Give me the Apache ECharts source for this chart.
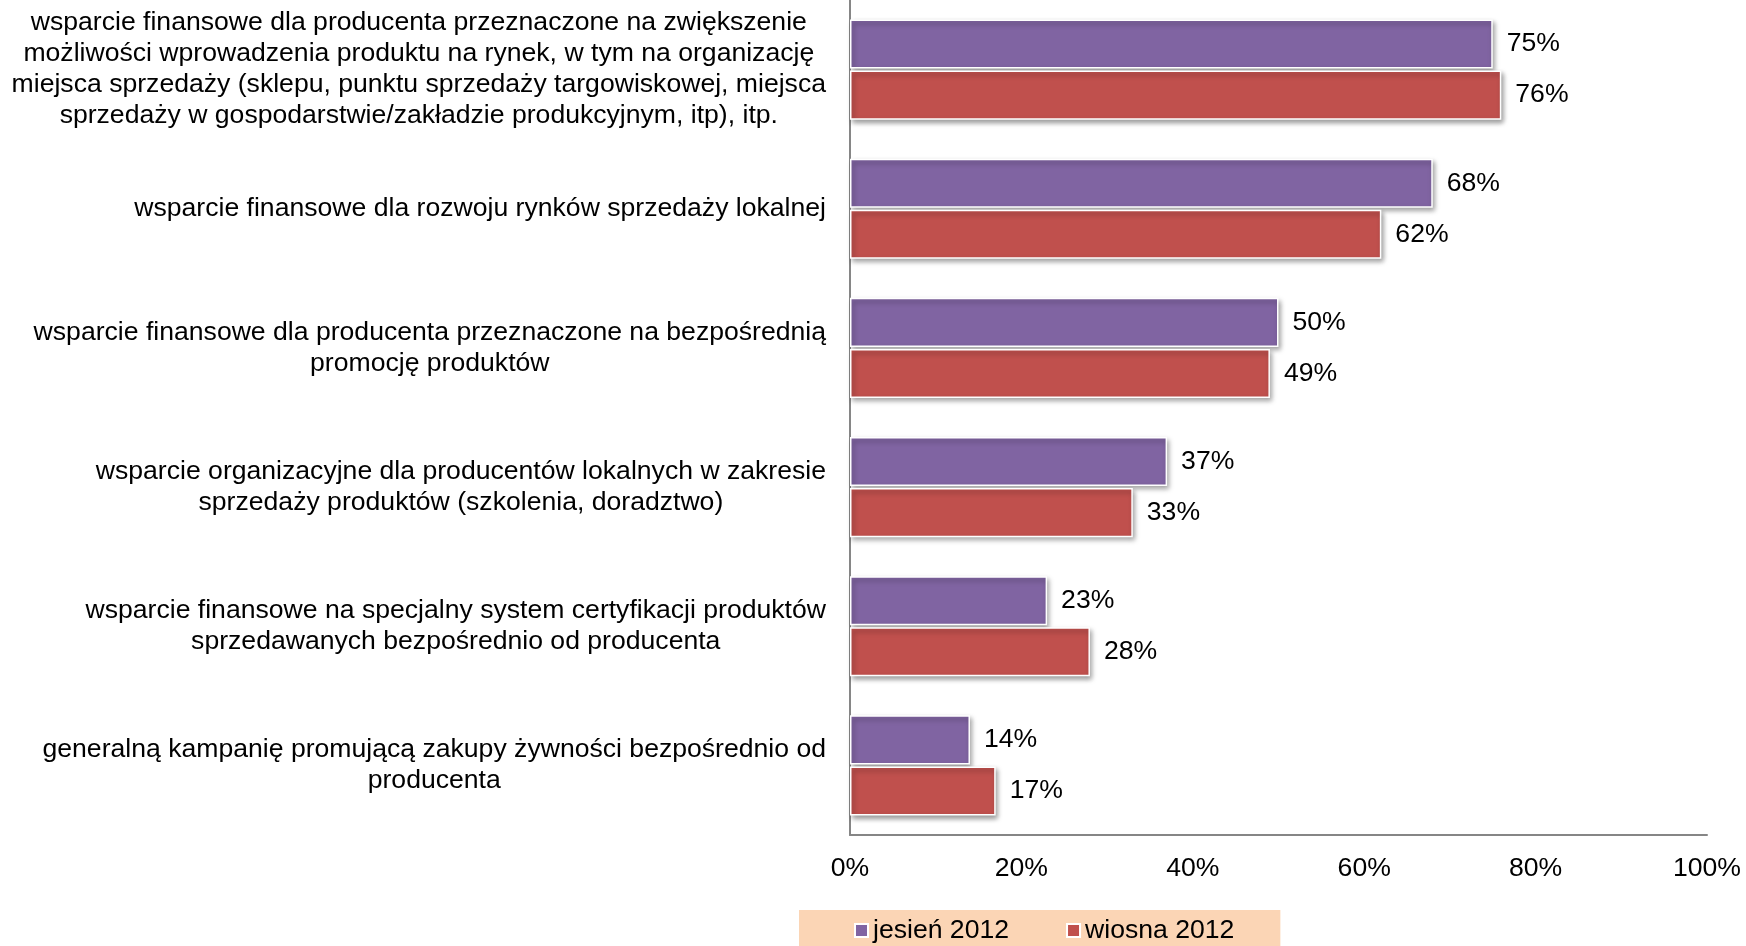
<!DOCTYPE html>
<html>
<head>
<meta charset="utf-8">
<script src="https://cdn.jsdelivr.net/npm/echarts@6/dist/echarts.min.js"></script>
<style>
html,body{margin:0;padding:0;background:#fff;}
#chart{width:1746px;height:946px;}
</style>
</head>
<body>
<div id="chart"></div>
<script>
const categories = [
  "wsparcie finansowe dla producenta przeznaczone na zwiększenie\nmożliwości wprowadzenia produktu na rynek, w tym na organizację\nmiejsca sprzedaży (sklepu, punktu sprzedaży targowiskowej, miejsca\nsprzedaży w gospodarstwie/zakładzie produkcyjnym, itp), itp.",
  "wsparcie finansowe dla rozwoju rynków sprzedaży lokalnej",
  "wsparcie finansowe dla producenta przeznaczone na bezpośrednią\npromocję produktów",
  "wsparcie organizacyjne dla producentów lokalnych w zakresie\nsprzedaży produktów (szkolenia, doradztwo)",
  "wsparcie finansowe na specjalny system certyfikacji produktów\nsprzedawanych bezpośrednio od producenta",
  "generalną kampanię promującą zakupy żywności bezpośrednio od\nproducenta"
];
const seriesNames = ["jesień 2012", "wiosna 2012"];
const jesien2012 = [75, 68, 50, 37, 23, 14];
const wiosna2012 = [76, 62, 49, 33, 28, 17];
const xTicks = [0, 20, 40, 60, 80, 100];

const FONT = "'Liberation Sans', Arial, sans-serif";
const FS = 26.6;
const chart = echarts.init(document.getElementById('chart'));
const barStyle = (c) => ({
  color: c,
  borderColor: '#ffffff',
  borderWidth: 1.5,
  shadowBlur: 5,
  shadowOffsetX: 2,
  shadowOffsetY: 3,
  shadowColor: 'rgba(0,0,0,0.4)'
});
const labelCfg = {
  show: true,
  position: 'right',
  distance: 14,
  formatter: (p) => p.value + '%',
  color: '#000',
  fontSize: FS,
  fontFamily: FONT
};
chart.setOption({
  animation: false,
  textStyle: { fontFamily: FONT },
  grid: { left: 850, right: 39, top: -2, bottom: 111, containLabel: false },
  legend: {
    data: seriesNames,
    left: 799,
    top: 910,
    padding: [7, 46, 12, 55],
    backgroundColor: '#FBD5B5',
    itemWidth: 13,
    itemHeight: 13,
    itemGap: 57,
    icon: 'rect',
    textStyle: { color: '#000', fontSize: FS, fontFamily: FONT }
  },
  xAxis: {
    type: 'value',
    min: xTicks[0],
    max: xTicks[xTicks.length - 1],
    interval: xTicks[1] - xTicks[0],
    axisLine: { show: true, lineStyle: { color: '#868686', width: 2 } },
    axisTick: { show: false },
    splitLine: { show: false },
    axisLabel: {
      formatter: '{value}%',
      color: '#000',
      fontSize: FS,
      fontFamily: FONT,
      margin: 20
    }
  },
  yAxis: {
    type: 'category',
    data: categories,
    inverse: true,
    axisLine: { show: true, lineStyle: { color: '#868686', width: 2 } },
    axisTick: { show: false },
    axisLabel: {
      margin: 24,
      color: '#000',
      fontSize: FS,
      lineHeight: 31,
      fontFamily: FONT,
      formatter: (v) => v.split('\n').map(l => '{c|' + l + '}').join('\n'),
      rich: {
        c: { align: 'center', fontSize: FS, lineHeight: 31, color: '#000', fontFamily: FONT }
      }
    }
  },
  series: [
    {
      name: seriesNames[0],
      type: 'bar',
      data: jesien2012,
      barCategoryGap: '28%',
      barGap: '4%',
      itemStyle: barStyle('#8064A2'),
      label: labelCfg
    },
    {
      name: seriesNames[1],
      type: 'bar',
      data: wiosna2012,
      barCategoryGap: '28%',
      barGap: '4%',
      itemStyle: barStyle('#C0504D'),
      label: labelCfg
    }
  ]
});
</script>
</body>
</html>
